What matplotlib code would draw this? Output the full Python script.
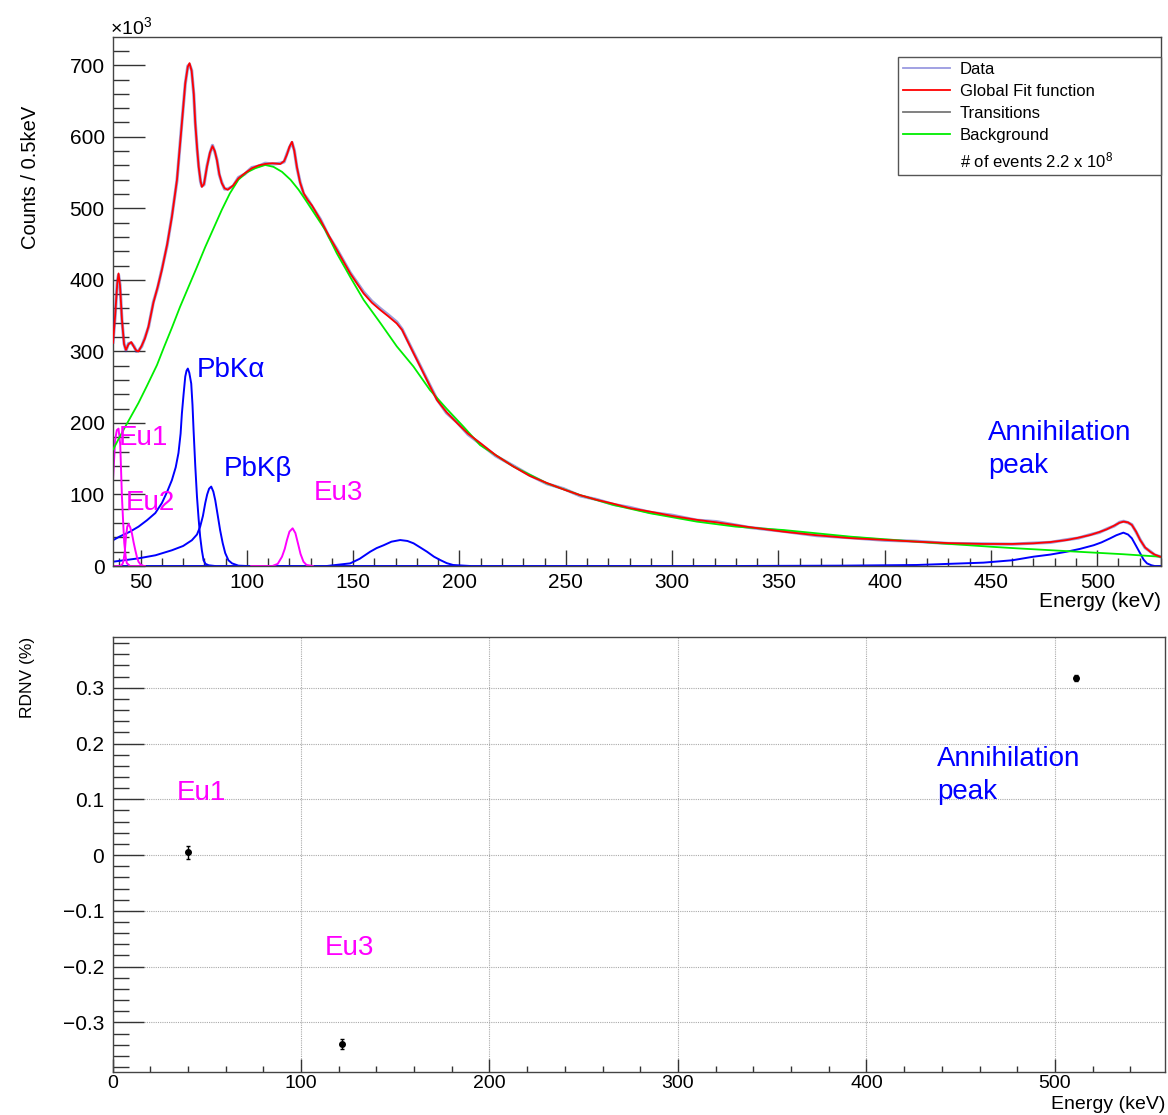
import matplotlib
matplotlib.use('Agg')  # no display
import matplotlib.pyplot as plt
from matplotlib.lines import Line2D
from matplotlib.ticker import MultipleLocator, FuncFormatter

plt.rcParams['font.family'] = ['Liberation Sans', 'DejaVu Sans']
plt.rcParams['mathtext.fontset'] = 'custom'
plt.rcParams['mathtext.rm'] = 'Liberation Sans'
plt.rcParams['mathtext.it'] = 'Liberation Sans:italic'

# ---- top panel: spectrum (counts in units of 10^3) ----
fit_energy = [37.0, 38.0, 39.0, 39.6, 40.3, 41.2, 42.2, 43.1, 44.3, 45.6, 46.9, 48.0,
              49.0, 50.5, 52.0, 53.7, 56.0, 58.0, 60.0, 62.5, 64.7, 67.1, 69.4, 71.0,
              72.2, 73.0, 74.0, 75.0, 75.7, 76.6, 77.3, 78.2, 78.8, 79.8, 81.2, 82.6,
              83.8, 84.9, 85.9, 87.0, 88.2, 89.5, 91.0, 93.5, 96.0, 99.0, 102.3, 105.5,
              108.6, 112.0, 115.7, 117.5, 118.8, 120.0, 121.2, 122.3, 123.5, 125.0, 126.7,
              128.5, 130.6, 134.5, 138.5, 142.3, 148.6, 154.9, 158.8, 162.7, 166.5, 170.5,
              173.0, 175.3, 178.3, 181.5, 185.5, 189.4, 193.9, 198.8, 204.0, 209.7, 217.0,
              225.4, 233.0, 241.1, 249.0, 256.8, 264.5, 272.5, 280.0, 289.7, 300.0, 311.7,
              321.0, 336.0, 352.4, 368.0, 383.8, 400.0, 415.1, 430.0, 446.5, 460.0, 470.0,
              478.0, 485.7, 491.0, 496.7, 501.0, 504.5, 508.0, 510.5, 512.4, 514.5, 516.3,
              518.3, 520.2, 522.5, 524.9, 527.0, 529.6]
fit_counts = [312, 350, 395, 409, 392, 345, 310, 302, 310, 313, 306, 301,
              300, 308, 318, 335, 368, 390, 414, 450, 488, 540, 619, 675,
              698, 703, 692, 660, 619, 583, 558, 538, 530, 534, 558, 578,
              587, 580, 567, 548, 535, 528, 526, 532, 542, 549, 556, 560,
              562, 563, 562, 566, 575, 586, 593, 580, 558, 536, 521,
              512, 504, 484, 462, 442, 409, 381, 368, 358, 349, 339,
              330, 316, 298, 279, 255, 232, 215, 200, 185, 172, 155,
              139, 126, 116, 107, 99, 92.5, 87, 81, 76, 70, 64.5,
              61, 54.5, 48, 43, 39, 36.5, 34, 32, 30.8, 30.8, 31.7,
              33.5, 36.3, 39.5, 43.3, 47.5, 51.3, 56.5, 60.5, 62, 61, 57.3,
              48, 36.3, 26, 20, 16, 13]
data_energy = fit_energy
data_counts = [313, 349, 397, 407, 393, 344, 311, 301, 311, 312, 307, 300,
               301, 307, 319, 334, 369, 389, 415, 449, 489, 539, 620, 674,
               699, 701, 693, 659, 620, 582, 559, 537, 531, 533, 559, 577,
               588, 579, 568, 547, 536, 527, 527, 531, 543, 548, 557, 559,
               563, 562, 563, 565, 576, 585, 592, 581, 557, 537, 520,
               513, 503, 485, 461, 443, 410, 383, 370, 360, 351, 341,
               331, 317, 299, 280, 256, 233, 214, 201, 184, 171, 154,
               140, 127, 115, 108, 98, 93, 86, 82, 75, 71, 64,
               62, 54, 48.5, 42.5, 39.5, 36, 34.5, 31.5, 31, 30.5, 32,
               33, 36.8, 39, 43.8, 47, 51.8, 56, 61, 62.5, 60.5, 57.8,
               47.5, 36.8, 25.5, 20.5, 15.5, 13]

bkg_energy = [37.1, 39.7, 43.0, 46.0, 49.0, 53.0, 57.7, 61.0, 64.7, 68.5, 72.5, 76.5,
              80.4, 84.3, 88.2, 92.0, 96.0, 99.8, 103.9, 108.6, 112.5, 116.5, 120.5,
              124.3, 127.5, 130.6, 136.8, 142.3, 148.6, 154.9, 162.7, 170.5, 178.3,
              186.1, 193.9, 201.8, 209.7, 225.4, 241.1, 256.8, 272.5, 289.7, 311.7,
              330.0, 352.4, 384.0, 415.0, 449.6, 462.2, 493.6, 512.0, 529.6]
bkg_counts = [163, 178, 196, 212, 228, 252, 281, 306, 333, 362, 390, 418,
              446, 472, 498, 521, 540, 550, 556, 560.6, 558, 551, 540,
              526, 512, 498, 470, 437, 404, 372, 340, 307, 279,
              246, 220, 195, 169, 139, 115.6, 99, 85.3, 73.7, 62,
              55, 50.3, 41, 34, 27, 24.7, 19.5, 16.5, 13]

# transitions (blue: Pb X-rays, 172 keV bump, annihilation; magenta: Eu lines)
pbka_energy = [37.0, 40.0, 45.0, 49.0, 53.0, 56.9, 60.0, 62.5, 64.7, 66.5, 67.8, 68.8,
               69.4, 70.2, 71.0, 71.6, 72.2, 72.9, 73.8, 74.4, 74.9, 75.7, 76.5, 77.3,
               78.0, 78.8, 79.6, 80.5, 82.0, 85.0]
pbka_counts = [36, 41, 48, 55, 64, 74, 88, 104, 120, 138, 158, 185,
               213, 240, 265, 273, 276, 270, 255, 225, 190, 140, 97, 65,
               41, 22, 8, 3, 1, 0]

pbkb_energy = [37.0, 49.0, 57.0, 64.7, 70.0, 74.1, 76.5, 78.0, 79.3, 80.4, 81.3, 82.2,
               83.2, 84.2, 85.1, 86.2, 87.4, 88.6, 89.8, 91.3, 93.0, 96.0, 100.0]
pbkb_counts = [6, 10.7, 15, 22, 28, 36, 44, 55, 70, 88, 100, 108,
               111, 104, 92, 72, 50, 32, 18, 8, 3.7, 0.5, 0]

bump_energy = [137.6, 148.6, 153.0, 158.0, 161.0, 164.3, 168.0, 172.1, 175.5, 178.4,
               181.5, 184.7, 188.0, 190.9, 194.0, 197.0, 205.0]
bump_counts = [0, 3.7, 10, 20, 25, 29, 34, 36.3, 35, 31.7,
               26, 20, 13, 8.4, 4, 1.4, 0]

annih_energy = [37.0, 330.0, 380.0, 415.0, 446.5, 460.0, 470.0, 478.0, 485.7, 492.0,
                498.3, 502.0, 506.1, 509.0, 512.3, 514.5, 516.3, 518.3, 520.2, 521.8,
                523.4, 525.5, 527.0, 530.0]
annih_counts = [0, 0, 0.5, 1.4, 4.7, 8, 13, 16, 20, 24,
                29, 33, 38.7, 43, 46.6, 44, 38.7, 28, 17.7, 9,
                3.7, 1, 0, 0]

eu1_energy = [37.0, 38.0, 38.8, 39.6, 40.4, 41.2, 41.8, 42.3, 43.0, 43.5, 45.0, 52.0]
eu1_counts = [120, 176, 190, 192, 170, 97, 60, 32, 12, 4, 0, 0]

eu2_energy = [37.0, 40.5, 41.5, 42.0, 42.6, 43.1, 43.7, 44.3, 45.1, 45.9, 46.7, 47.5,
              48.3, 49.0, 50.0, 51.5]
eu2_counts = [0, 0, 3, 8, 22, 41, 55, 58.7, 54, 45.6, 33, 22,
              12, 6, 2, 0]

eu3_energy = [102.0, 112.0, 114.5, 116.5, 117.8, 118.8, 120.0, 121.5, 122.8, 124.0,
              125.2, 126.6, 128.0, 131.0]
eu3_counts = [0, 0, 3, 13, 24, 36, 48, 52.7, 46, 31.7,
              17, 6, 1.5, 0]

n_events_text = '# of events 2.2 x 10$^{8}$'

# ---- bottom panel: RDNV ----
rdnv_energy = [39.8, 121.5, 511.0]
rdnv_value = [0.005, -0.339, 0.318]
rdnv_error = [0.012, 0.009, 0.005]

BLUE = '#0000ff'
MAGENTA = '#ff00ff'
RED = '#ff0000'
GREEN = '#00ee00'
TICK_COLOR = '#333333'

fig = plt.figure(figsize=(11.68, 11.15), dpi=100)
ax = fig.add_axes([113 / 1168, 1 - 566 / 1115, 1048 / 1168, 529 / 1115])
axb = fig.add_axes([112.5 / 1168, 1 - 1072 / 1115, 1052.5 / 1168, 435 / 1115])

# spectrum
ax.plot(data_energy, data_counts, color='#3c3cb4', lw=2.3, alpha=0.5, zorder=3)
ax.plot(fit_energy, fit_counts, color=RED, lw=1.3, zorder=4)
ax.plot(bkg_energy, bkg_counts, color=GREEN, lw=1.3, zorder=3)
for e, c in [(pbka_energy, pbka_counts), (pbkb_energy, pbkb_counts),
             (bump_energy, bump_counts), (annih_energy, annih_counts)]:
    ax.plot(e, c, color=BLUE, lw=1.4, zorder=2)
for e, c in [(eu1_energy, eu1_counts), (eu2_energy, eu2_counts), (eu3_energy, eu3_counts)]:
    ax.plot(e, c, color=MAGENTA, lw=1.4, zorder=2)

ax.set_xlim(37, 530)
ax.set_ylim(0, 739.5)
ax.xaxis.set_major_locator(MultipleLocator(50))
ax.xaxis.set_minor_locator(MultipleLocator(10))
ax.yaxis.set_major_locator(MultipleLocator(100))
ax.yaxis.set_minor_locator(MultipleLocator(20))
ax.tick_params(axis='y', which='major', direction='in', length=23, width=1,
               color=TICK_COLOR, labelsize=15, pad=6)
ax.tick_params(axis='y', which='minor', direction='in', length=11.5, width=1, color=TICK_COLOR)
ax.tick_params(axis='x', which='major', direction='in', length=11.5, width=1,
               color=TICK_COLOR, labelsize=15, pad=5)
ax.tick_params(axis='x', which='minor', direction='in', length=5.8, width=1, color=TICK_COLOR)
for s in ax.spines.values():
    s.set_color('#444444')
    s.set_linewidth(1.0)

ax.set_xlabel('Energy (keV)', fontsize=15, loc='right')
ax.xaxis.set_label_coords(1.0, -0.05)
ax.xaxis.label.set_ha('right')
ax.set_ylabel('Counts / 0.5keV', fontsize=14.5)
ax.yaxis.set_label_coords(-0.07, 0.734)
fig.text(110 / 1168, 1 - 34 / 1115, '×10$^{3}$', fontsize=14, ha='left', va='baseline')

# labels of the peaks
ax.text(76.5, 264.6, 'PbKα', color=BLUE, fontsize=20, va='baseline')
ax.text(89.0, 126.0, 'PbKβ', color=BLUE, fontsize=20, va='baseline')
ax.text(39.6, 169.0, 'Eu1', color=MAGENTA, fontsize=20, va='baseline')
ax.text(43.1, 78.0, 'Eu2', color=MAGENTA, fontsize=20, va='baseline')
ax.text(131.3, 92.0, 'Eu3', color=MAGENTA, fontsize=20, va='baseline')
ax.text(448.8, 176.0, 'Annihilation', color=BLUE, fontsize=20, va='baseline')
ax.text(448.8, 129.6, 'peak', color=BLUE, fontsize=20, va='baseline')

legend_handles = [
    Line2D([0], [0], color='#9a9ae0', lw=1.3),
    Line2D([0], [0], color=RED, lw=1.3),
    Line2D([0], [0], color='#777777', lw=1.3),
    Line2D([0], [0], color=GREEN, lw=1.3),
    Line2D([0], [0], color='none', lw=0),
]
legend_labels = ['Data', 'Global Fit function', 'Transitions', 'Background', n_events_text]
leg = ax.legend(legend_handles, legend_labels, loc='upper left',
                bbox_to_anchor=(0.749, 0.752, 0.251, 0.210), mode='expand',
                borderaxespad=0, fontsize=12, frameon=True, fancybox=False,
                edgecolor='#555555', framealpha=1, handlelength=2.8,
                handletextpad=0.6, labelspacing=0.42, borderpad=0.3)
leg.get_frame().set_linewidth(1.0)

# RDNV panel
axb.errorbar(rdnv_energy, rdnv_value, yerr=rdnv_error, fmt='o', color='black',
             ms=4, elinewidth=1, capsize=1.5, zorder=4)
axb.set_xlim(0, 558.4)
axb.set_ylim(-0.389, 0.391)
axb.xaxis.set_major_locator(MultipleLocator(100))
axb.xaxis.set_minor_locator(MultipleLocator(20))
axb.yaxis.set_major_locator(MultipleLocator(0.1))
axb.yaxis.set_minor_locator(MultipleLocator(0.02))
axb.yaxis.set_major_formatter(FuncFormatter(
    lambda v, p: ('%g' % round(v, 2)).replace('-', '\u2212')))
axb.grid(True, which='major', color='#aaaaaa', linestyle=(0, (1, 1)), lw=0.8)
axb.tick_params(axis='y', which='major', direction='in', length=22, width=1,
                color=TICK_COLOR, labelsize=15, pad=6)
axb.tick_params(axis='y', which='minor', direction='in', length=11.5, width=1, color=TICK_COLOR)
axb.tick_params(axis='x', which='major', direction='in', length=9.5, width=1,
                color=TICK_COLOR, labelsize=14, pad=2)
axb.tick_params(axis='x', which='minor', direction='in', length=4.5, width=1, color=TICK_COLOR)
for s in axb.spines.values():
    s.set_color('#444444')
    s.set_linewidth(1.0)

axb.set_xlabel('Energy (keV)', fontsize=14, loc='right')
axb.xaxis.set_label_coords(1.0, -0.056)
axb.xaxis.label.set_ha('right')
axb.set_ylabel('RDNV (%)', fontsize=12.5)
axb.yaxis.set_label_coords(-0.074, 0.907)

axb.text(34.0, 0.099, 'Eu1', color=MAGENTA, fontsize=20, va='baseline')
axb.text(112.7, -0.18, 'Eu3', color=MAGENTA, fontsize=20, va='baseline')
axb.text(437.4, 0.159, 'Annihilation', color=BLUE, fontsize=20, va='baseline')
axb.text(437.4, 0.100, 'peak', color=BLUE, fontsize=20, va='baseline')

fig.savefig('out.png', dpi=100)
plt.close(fig)
